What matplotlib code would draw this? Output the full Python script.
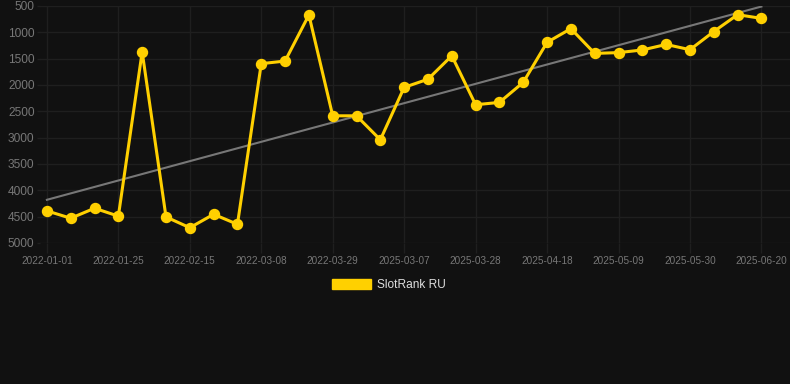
import numpy as np
import matplotlib
matplotlib.use('Agg')
import matplotlib.pyplot as plt
from matplotlib.patches import Patch

# rank values (lower = better, axis inverted)
dates = ['2022-01-01', '2022-01-09', '2022-01-17', '2022-01-25', '2022-02-01',
         '2022-02-08', '2022-02-15', '2022-02-22', '2022-03-01', '2022-03-08',
         '2022-03-15', '2022-03-22', '2022-03-29', '2025-02-21', '2025-02-28',
         '2025-03-07', '2025-03-14', '2025-03-21', '2025-03-28', '2025-04-04',
         '2025-04-11', '2025-04-18', '2025-04-25', '2025-05-02', '2025-05-09',
         '2025-05-16', '2025-05-23', '2025-05-30', '2025-06-06', '2025-06-13',
         '2025-06-20']
ranks = [4390, 4530, 4340, 4490, 1370, 4505, 4710, 4455, 4645, 1595,
         1545, 670, 2585, 2585, 3040, 2045, 1890, 1445, 2375, 2330,
         1950, 1190, 930, 1400, 1385, 1335, 1230, 1330, 985, 665, 735]
trend_ends = [4180, 510]
yticks = [500, 1000, 1500, 2000, 2500, 3000, 3500, 4000, 4500, 5000]

bg = '#111111'
gold = '#ffd000'
gridc = '#1f1f1f'

plt.rcParams['font.family'] = ['Liberation Sans', 'DejaVu Sans']

fig = plt.figure(figsize=(7.9, 3.84), dpi=100, facecolor=bg)
ax = fig.add_axes([40/790, (384-243)/384, 750/790, 237/384], facecolor=bg)

x = np.arange(len(dates))
ax.plot([x[0], x[-1]], trend_ends, color='#777777', lw=1.5, zorder=2)
ax.plot(x, ranks, color=gold, lw=2.2, marker='o', ms=7.2, mfc=gold, mec=gold,
        solid_joinstyle='miter', zorder=3, clip_on=False)

ax.set_ylim(5000, 500)
ax.set_xlim(-0.29, 31.2)
ax.set_yticks(yticks)
ax.set_xticks(x[::3])
ax.set_xticklabels(dates[::3])

ax.grid(True, color=gridc, lw=1)
for s in ax.spines.values():
    s.set_visible(False)
ax.tick_params(axis='x', colors=gridc, length=7, width=1, labelcolor='#777777',
               labelsize=7.2, pad=2)
ax.tick_params(axis='y', colors=gridc, length=2, width=1, labelcolor='#777777',
               labelsize=8.6, pad=2)

leg = fig.legend(handles=[Patch(facecolor=gold, edgecolor=gold, label='SlotRank RU')],
                 loc='center', bbox_to_anchor=(389/790, 1 - 285/384), frameon=False,
                 handlelength=3.3, handleheight=0.9, handletextpad=0.5,
                 fontsize=8.6)
for t in leg.get_texts():
    t.set_color('#dddddd')

fig.savefig('out.png', dpi=100, facecolor=bg)
